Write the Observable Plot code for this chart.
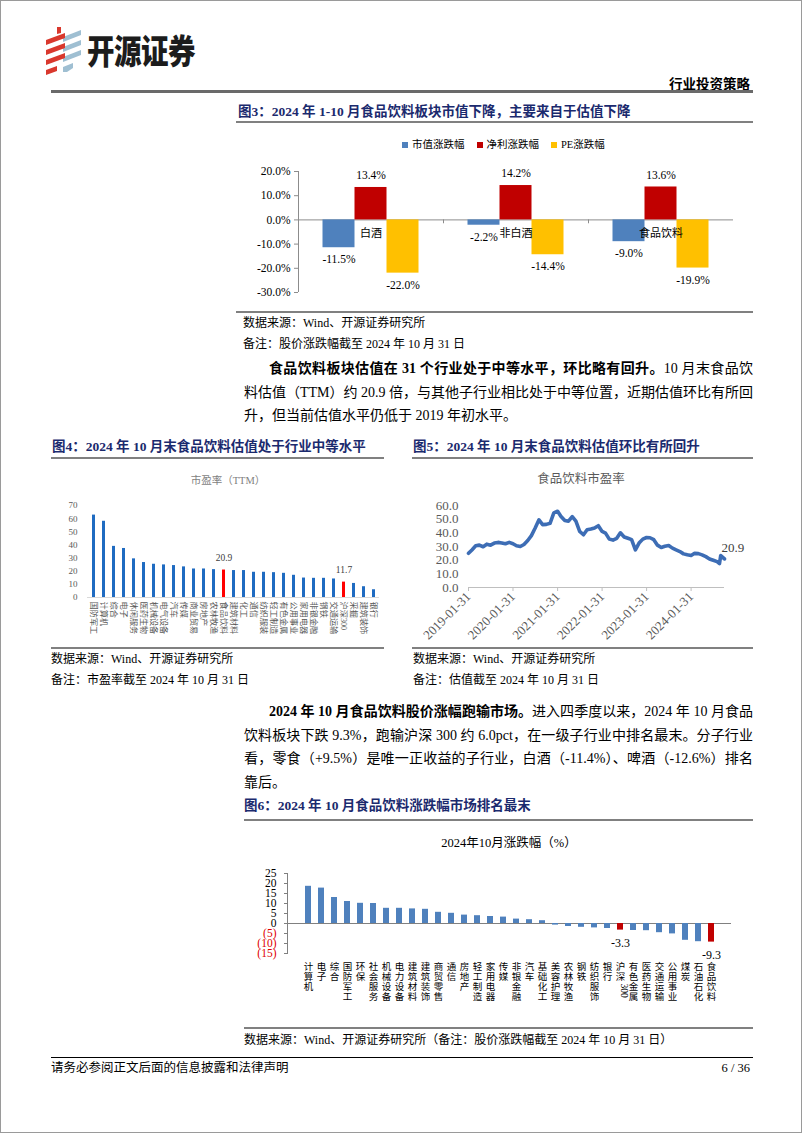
<!DOCTYPE html>
<html><head><meta charset="utf-8">
<script src="https://cdn.jsdelivr.net/npm/d3@7"></script>
<script src="https://cdn.jsdelivr.net/npm/@observablehq/plot@0.6"></script>
<style>
html,body{margin:0;padding:0;background:#fff;}
#page{position:relative;width:802px;height:1133px;background:#fff;overflow:hidden;box-sizing:border-box;border:1px solid #9a9a9a;
  font-family:"Liberation Serif","Noto Sans CJK SC",serif;color:#000;}
.a{position:absolute;white-space:nowrap;}
.hr{position:absolute;height:2px;background:#808080;}
.figt{position:absolute;white-space:nowrap;font-weight:bold;font-size:13.5px;line-height:16px;color:#1b2a6e;}
.src{position:absolute;white-space:nowrap;font-size:12px;line-height:14px;}
.para{position:absolute;left:243px;width:509px;font-size:14px;line-height:23.5px;}
.para div{white-space:nowrap;text-align:justify;text-align-last:justify;}
.para div.last{text-align-last:left;}
.para b{font-weight:bold;}
.plotbox{position:absolute;}
.plotbox svg{display:block;overflow:visible;}
</style>
</head><body>
<div id="page"></div>
<script>
// ================= DATA =================
// Fig 3
const groups3 = ["白酒", "非白酒", "食品饮料"];
const series3 = ["市值涨跌幅", "净利涨跌幅", "PE涨跌幅"];
const mktCapChg3 = [-11.5, -2.2, -9.0];
const profitChg3 = [13.4, 14.2, 13.6];
const peChg3 = [-22.0, -14.4, -19.9];
const yTicks3 = [-30, -20, -10, 0, 10, 20];
const colors3 = ["#4f81bd", "#c00000", "#ffc000"];

// Fig 4
const industries4 = ["国防军工","计算机","综合","电子","休闲服务","医药生物","机械设备","电气设备","汽车","传媒","商业贸易","房地产","农林牧渔","食品饮料","建筑材料","化工","通信","纺织服装","轻工制造","有色金属","公用事业","家用电器","非银金融","钢铁","交通运输","沪深300","采掘","建筑装饰","银行"];
const pe4 = [62.7,58.0,38.9,37.3,29.4,26.6,25.3,24.8,24.3,23.3,21.7,21.7,21.2,20.9,20.5,20.5,19.2,19.2,18.9,18.4,16.9,14.8,14.6,14.6,14.1,11.7,10.7,8.2,5.9];
const highlight4 = ["食品饮料", "沪深300"];
const yTicks4 = [0,10,20,30,40,50,60,70];

// Fig 5
const dates5 = [
 "2019-01-31","2019-02-28","2019-03-31","2019-04-30","2019-05-31","2019-06-30","2019-07-31","2019-08-31","2019-09-30","2019-10-31","2019-11-30","2019-12-31",
 "2020-01-31","2020-02-29","2020-03-31","2020-04-30","2020-05-31","2020-06-30","2020-07-31","2020-08-31","2020-09-30","2020-10-31","2020-11-30","2020-12-31",
 "2021-01-31","2021-02-28","2021-03-31","2021-04-30","2021-05-31","2021-06-30","2021-07-31","2021-08-31","2021-09-30","2021-10-31","2021-11-30","2021-12-31",
 "2022-01-31","2022-02-28","2022-03-31","2022-04-30","2022-05-31","2022-06-30","2022-07-31","2022-08-31","2022-09-30","2022-10-31","2022-11-30","2022-12-31",
 "2023-01-31","2023-02-28","2023-03-31","2023-04-30","2023-05-31","2023-06-30","2023-07-31","2023-08-31","2023-09-30","2023-10-31","2023-11-30","2023-12-31",
 "2024-01-31","2024-02-29","2024-03-31","2024-04-30","2024-05-31","2024-06-30","2024-07-31","2024-08-31","2024-09-20","2024-09-30","2024-10-31"];
const pe5 = [
 25.0,27.5,30.5,31.0,29.8,31.7,31.0,32.5,33.0,32.6,32.0,33.0,
 32.0,30.5,30.0,31.5,34.4,38.0,43.5,49.5,46.0,46.2,47.0,54.6,
 55.8,52.0,49.0,48.5,51.8,48.5,41.0,38.6,42.3,42.8,43.5,45.2,
 41.0,39.8,35.4,34.7,36.0,40.0,37.0,36.0,35.0,27.5,32.5,35.4,
 36.6,36.4,35.0,31.0,29.3,30.2,30.7,28.8,27.5,26.3,24.6,23.9,
 23.4,25.0,24.8,23.9,22.6,20.9,19.9,18.9,17.5,23.4,20.9];
const xTicks5 = ["2019-01-31","2020-01-31","2021-01-31","2022-01-31","2023-01-31","2024-01-31"];
const yTicks5 = [0,10,20,30,40,50,60];

// Fig 6
const industries6 = ["计算机","电子","综合","国防军工","环保","社会服务","机械设备","电力设备","建筑材料","建筑装饰","商贸零售","通信","房地产","轻工制造","家用电器","传媒","非银金融","汽车","基础化工","美容护理","农林牧渔","钢铁","纺织服饰","银行","沪深300","有色金属","医药生物","交通运输","公用事业","煤炭","石油石化","食品饮料"];
const chg6 = [18.6,17.7,13.0,11.0,10.1,10.0,7.6,7.6,7.3,7.1,5.6,5.1,4.2,3.9,3.5,3.2,2.2,1.9,1.4,-0.8,-1.5,-1.9,-2.2,-2.5,-3.3,-3.5,-3.6,-4.6,-5.2,-8.4,-9.1,-9.3];
const highlight6 = ["沪深300", "食品饮料"];
const yTicksPos6 = [0,5,10,15,20,25];
const yTicksNeg6 = [-5,-10,-15];

// ================= LAYOUT =================
const FONT = '"Liberation Serif","Noto Sans CJK SC",serif';
const page = document.getElementById("page");
function add(html){ page.insertAdjacentHTML("beforeend", html); }
function box(left, top, node){
  const d = document.createElement("div");
  d.className = "plotbox"; d.style.left = left + "px"; d.style.top = top + "px";
  d.appendChild(node); page.appendChild(d);
}

// header
add(`<svg class="a" style="left:42px;top:24px" width="44" height="52" viewBox="0 0 44 52">
  <g fill="#9fbfd2">
    <polygon points="20,12 38,5 38,10 20,17"/><polygon points="20,22 38,15 38,20 20,27"/>
    <polygon points="20,32 38,25 38,30 20,37"/><polygon points="20,42 30,38 30,43 24,47 20,47"/>
  </g>
  <g fill="#d9382d">
    <polygon points="3,15 22,8 22,13 3,20"/><polygon points="3,25 22,18 22,23 3,30"/>
    <polygon points="3,35 22,28 22,33 3,40"/><polygon points="3,45 14,41 14,46 3,50"/>
    <polygon points="14,2 18,2 18,8 14,9"/>
  </g></svg>`);
add(`<div class="a" style="left:86px;top:31px;font-family:'Noto Sans CJK SC';font-weight:900;font-size:27.5px;line-height:34px;color:#1c1c1c;letter-spacing:-0.5px;transform:scaleY(1.25);transform-origin:left center;">开源证券</div>`);
add(`<div class="a" style="right:51px;top:74px;font-family:'Noto Sans CJK SC';font-weight:bold;font-size:13.5px;line-height:16px;">行业投资策略</div>`);
add(`<div class="hr" style="left:50px;top:89px;width:702px;height:2.5px;background:#6a6a6a"></div>`);

// Fig 3 title
add(`<div class="figt" style="left:237px;top:103px">图3：2024 年 1-10 月食品饮料板块市值下降，主要来自于估值下降</div>`);
add(`<div class="hr" style="left:235px;top:120px;width:517px"></div>`);
// legend
add(`<div class="a" style="left:401px;top:137px;font-size:10.5px;line-height:14px;display:flex;gap:12px;">` +
  series3.map((s,i)=>`<span style="display:flex;align-items:center;gap:4px"><span style="display:inline-block;width:6px;height:6px;background:${colors3[i]}"></span>${s}</span>`).join("") + `</div>`);

function fig3(){
  const W=517,H=160,ml=62,mr=20,mt=15,mb=24;
  const gw=(W-ml-mr)/groups3.length, bw=32, pad=(gw-bw*series3.length)/2;
  const values=[mktCapChg3,profitChg3,peChg3];
  const rows=groups3.flatMap((g,gi)=>values.map((arr,si)=>({group:g,gi,si,value:arr[gi]})));
  const fmt=d=>d.toFixed(1)+"%";
  const marks=[
    Plot.ruleY([0],{stroke:"#8c8c8c"}),
    Plot.ruleX([0],{y1:d3.min(yTicks3),y2:d3.max(yTicks3),stroke:"#8c8c8c"}),
    Plot.ruleX(d3.range(1,groups3.length),{y1:0,y2:-1.6,stroke:"#8c8c8c"}),
    Plot.axisY({ticks:yTicks3,tickFormat:fmt,tickSize:4,tickPadding:4,stroke:"#8c8c8c",fill:"#000",fontSize:11.5,label:null})
  ];
  series3.forEach((s,si)=>{
    const r=rows.filter(d=>d.si===si);
    marks.push(Plot.rectY(r,{x1:"gi",x2:d=>d.gi+1,y1:()=>0,y2:"value",fill:colors3[si],insetLeft:pad+si*bw,insetRight:gw-pad-(si+1)*bw}));
    const dx=(si-(series3.length-1)/2)*bw;
    marks.push(Plot.text(r.filter(d=>d.value>=0),{x:d=>d.gi+0.5,y:"value",text:d=>fmt(d.value),dx,dy:-12,fontSize:11.5}));
    marks.push(Plot.text(r.filter(d=>d.value<0),{x:d=>d.gi+0.5,y:"value",text:d=>fmt(d.value),dx,dy:12,fontSize:11.5}));
  });
  marks.push(Plot.text(groups3,{x:(d,i)=>i+0.5,y:()=>0,dy:14,text:d=>d,fontSize:11}));
  return Plot.plot({width:W,height:H,marginLeft:ml,marginRight:mr,marginTop:mt,marginBottom:mb,
    style:{fontFamily:FONT,fontSize:"12px",color:"#000",background:"transparent"},
    x:{domain:[0,groups3.length],axis:null}, y:{domain:[-30,20],axis:null}, marks});
}
box(235,155,fig3());

add(`<div class="hr" style="left:235px;top:310px;width:517px"></div>`);
add(`<div class="src" style="left:242px;top:315px">数据来源：Wind、开源证券研究所</div>`);
add(`<div class="src" style="left:242px;top:336px">备注：股价涨跌幅截至 2024 年 10 月 31 日</div>`);

// paragraph 1
add(`<div class="para" style="top:356px">
<div style="padding-left:25px"><b>食品饮料板块估值在 31 个行业处于中等水平，环比略有回升。</b>10 月末食品饮</div>
<div>料估值（TTM）约 20.9 倍，与其他子行业相比处于中等位置，近期估值环比有所回</div>
<div class="last">升，但当前估值水平仍低于 2019 年初水平。</div></div>`);

// Fig 4 / Fig 5 titles
add(`<div class="figt" style="left:51px;top:438px">图4：2024 年 10 月末食品饮料估值处于行业中等水平</div>`);
add(`<div class="hr" style="left:50px;top:456px;width:333px"></div>`);
add(`<div class="figt" style="left:412px;top:438px">图5：2024 年 10 月末食品饮料估值环比有所回升</div>`);
add(`<div class="hr" style="left:411px;top:456px;width:341px"></div>`);

add(`<div class="a" style="left:227px;top:473px;transform:translateX(-50%);font-size:10.5px;line-height:14px;color:#7f7f7f">市盈率（TTM）</div>`);
function fig4(){
  const rows=industries4.map((name,i)=>({name,value:pe4[i]}));
  const hl=d=>highlight4.includes(d.name);
  return Plot.plot({width:333,height:150,marginLeft:36,marginRight:5,marginTop:14,marginBottom:44,
    style:{fontFamily:FONT,fontSize:"9px",color:"#595959",background:"transparent"},
    x:{domain:industries4,paddingInner:0.7,paddingOuter:0.2,axis:null},
    y:{domain:[0,70],axis:null},
    marks:[
      Plot.ruleY([0],{stroke:"#d9d9d9"}),
      Plot.barY(rows.filter(d=>!hl(d)),{x:"name",y:"value",fill:"#1f6bc1"}),
      Plot.barY(rows.filter(hl),{x:"name",y:"value",fill:"#ff0000"}),
      Plot.text(rows.filter(hl),{x:"name",y:"value",text:d=>d.value.toFixed(1),dy:-12,fontSize:9.5,fill:"#404040"}),
      Plot.axisY({ticks:yTicks4,tickSize:0,tickPadding:10,fontSize:9,fill:"#595959",label:null}),
      Plot.axisX({tickSize:0,tickRotate:90,tickPadding:4,fontSize:8.2,fill:"#595959",label:null})
    ]});
}
box(50,490,fig4());

add(`<div class="a" style="left:580px;top:470px;transform:translateX(-50%);font-size:12.5px;line-height:16px;color:#595959">食品饮料市盈率</div>`);
function fig5(){
  const rows=dates5.map((d,i)=>({date:new Date(d),value:pe5[i]}));
  return Plot.plot({width:340,height:150,marginLeft:55,marginRight:29,marginTop:14,marginBottom:54,
    style:{fontFamily:FONT,fontSize:"13px",color:"#595959",background:"transparent"},
    x:{type:"utc",domain:[rows[0].date,rows[rows.length-1].date],axis:null},
    y:{domain:[0,60],axis:null},
    marks:[
      Plot.ruleY([0],{stroke:"#bfbfbf"}),
      Plot.line(rows,{x:"date",y:"value",stroke:"#3d6db5",strokeWidth:3.6,curve:"linear"}),
      Plot.text(rows.slice(-1),{x:"date",y:"value",text:d=>d.value.toFixed(1),textAnchor:"start",dx:-3,dy:-11,fontSize:13,fill:"#404040"}),
      Plot.axisY({ticks:yTicks5,tickFormat:d=>d.toFixed(1),tickSize:0,tickPadding:10,fontSize:13,fill:"#595959",label:null}),
      Plot.axisX({ticks:xTicks5.map(d=>new Date(d)),tickFormat:d3.utcFormat("%Y-%m-%d"),tickRotate:-45,tickSize:4,tickPadding:3,stroke:"#bfbfbf",fill:"#595959",fontSize:13,label:null})
    ]});
}
box(412,490,fig5());

add(`<div class="hr" style="left:50px;top:646px;width:333px"></div>`);
add(`<div class="hr" style="left:411px;top:646px;width:341px"></div>`);
add(`<div class="src" style="left:50px;top:651px">数据来源：Wind、开源证券研究所</div>`);
add(`<div class="src" style="left:50px;top:672px">备注：市盈率截至 2024 年 10 月 31 日</div>`);
add(`<div class="src" style="left:412px;top:651px">数据来源：Wind、开源证券研究所</div>`);
add(`<div class="src" style="left:412px;top:672px">备注：估值截至 2024 年 10 月 31 日</div>`);

// paragraph 2
add(`<div class="para" style="top:699px">
<div style="padding-left:25px"><b>2024 年 10 月食品饮料股价涨幅跑输市场。</b>进入四季度以来，2024 年 10 月食品</div>
<div>饮料板块下跌 9.3%，跑输沪深 300 约 6.0pct，在一级子行业中排名最末。分子行业</div>
<div>看，零食（+9.5%）是唯一正收益的子行业，白酒（-11.4%）、啤酒（-12.6%）排名</div>
<div class="last">靠后。</div></div>`);

add(`<div class="figt" style="left:243px;top:797px">图6：2024 年 10 月食品饮料涨跌幅市场排名最末</div>`);
add(`<div class="hr" style="left:243px;top:818px;width:509px"></div>`);
add(`<div class="a" style="left:508px;top:834px;transform:translateX(-50%);font-size:12.5px;line-height:16px;color:#000">2024年10月涨跌幅（%）</div>`);

function fig6(){
  const rows=industries6.map((name,i)=>({name,value:chg6[i]}));
  const hl=d=>highlight6.includes(d.name);
  const digitRows=industries6.filter(d=>/\d/.test(d));
  return Plot.plot({width:509,height:155,marginLeft:43,marginRight:22,marginTop:17,marginBottom:58,
    style:{fontFamily:FONT,fontSize:"11px",color:"#000",background:"transparent"},
    x:{domain:industries6,paddingInner:0.57,paddingOuter:0.25,axis:null},
    y:{domain:[-15,25],axis:null},
    marks:[
      Plot.frame({anchor:"left",stroke:"#808080"}),
      Plot.ruleY([0],{stroke:"#808080"}),
      Plot.barY(rows.filter(d=>!hl(d)),{x:"name",y:"value",fill:"#4f81bd"}),
      Plot.barY(rows.filter(hl),{x:"name",y:"value",fill:"#c00000"}),
      Plot.text(rows.filter(hl),{x:"name",y:"value",text:d=>d.value.toFixed(1),dy:13,fontSize:12}),
      Plot.axisY({ticks:yTicksPos6,tickSize:3,tickPadding:8,fontSize:11.5,fill:"#000",stroke:"#808080",label:null}),
      Plot.axisY({ticks:yTicksNeg6,tickFormat:d=>`(${-d})`,tickSize:3,tickPadding:8,fontSize:11.5,fill:"#e00000",stroke:"#808080",label:null}),
      Plot.axisX({tickSize:0,tickPadding:9,fontSize:9.5,lineHeight:1.05,fill:"#000",label:null,
        tickFormat:d=>(d.match(/\D/g)||[]).join("\n")}),
      Plot.text(digitRows,{x:d=>d,frameAnchor:"bottom",dy:37,rotate:90,text:d=>d.match(/\d+/)[0],fontSize:9.5})
    ]});
}
box(243,855,fig6());

add(`<div class="hr" style="left:243px;top:1026px;width:509px"></div>`);
add(`<div class="src" style="left:243px;top:1032px">数据来源：Wind、开源证券研究所（备注：股价涨跌幅截至 2024 年 10 月 31 日）</div>`);

// footer
add(`<div class="hr" style="left:50px;top:1056px;width:702px;height:1.2px;background:#000"></div>`);
add(`<div class="src" style="left:50px;top:1060px;font-size:12.5px">请务必参阅正文后面的信息披露和法律声明</div>`);
add(`<div class="src" style="right:51px;top:1060px;font-size:12.5px">6 / 36</div>`);
</script>
</body></html>
